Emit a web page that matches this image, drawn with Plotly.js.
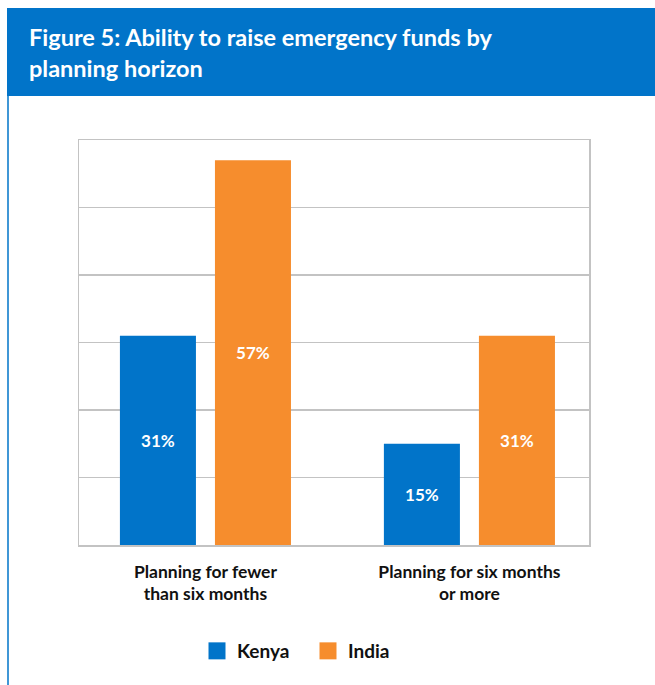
<!DOCTYPE html>
<html>
<head>
<meta charset="utf-8">
<script src="https://cdn.plot.ly/plotly-3.0.1.min.js"></script>
<style>html,body{margin:0;padding:0;background:#fff;}#chart{width:655px;height:685px;}</style>
</head>
<body>
<div id="chart"></div>
<script>
const categories = ["Planning for fewer<br>than six months", "Planning for six months<br>or more"];
const kenyaValues = [31, 15];
const indiaValues = [57, 31];
const seriesNames = ["Kenya", "India"];
const titleText = "Figure 5: Ability to raise emergency funds by<br>planning horizon";

const BLUE = "#0174C9";
const ORANGE = "#F68D2D";
const FONT = "Lato, 'Open Sans', sans-serif";

// plot area geometry (px)
const W = 655, H = 685, L = 79, R = 589, T = 140, B = 545;
const px2x = p => (p - L) / (R - L);
const py2y = p => (B - p) / (B - T);

const traces = [
  {type: "bar", name: seriesNames[0], x: categories, y: kenyaValues,
   marker: {color: BLUE}, texttemplate: "%{y}%", textposition: "inside",
   insidetextanchor: "middle", textfont: {color: "#fff", size: 17, family: FONT, weight: 700},
   hoverinfo: "skip"},
  {type: "bar", name: seriesNames[1], x: categories, y: indiaValues,
   marker: {color: ORANGE}, texttemplate: "%{y}%", textposition: "inside",
   insidetextanchor: "middle", textfont: {color: "#fff", size: 17, family: FONT, weight: 700},
   hoverinfo: "skip"}
];

const layout = {
  width: W, height: H,
  margin: {l: L, r: W - R, t: T, b: H - B, pad: 0},
  paper_bgcolor: "#fff", plot_bgcolor: "#fff",
  font: {family: FONT, color: "#111"},
  barmode: "group", bargap: 0.28, bargroupgap: 0.2,
  xaxis: {type: "category", range: [-0.479, 1.453], showline: true, mirror: true,
          linecolor: "#c3c3c3", linewidth: 1.5, ticks: "", ticklabelstandoff: 10,
          tickfont: {size: 17.5, color: "#111", family: FONT, weight: 700},
          fixedrange: true},
  yaxis: {range: [0, 60], dtick: 10, showticklabels: false, showgrid: true,
          gridcolor: "#c3c3c3", gridwidth: 1.2, showline: true, mirror: true,
          linecolor: "#c3c3c3", linewidth: 1.5, zeroline: false, ticks: "", fixedrange: true},
  legend: {orientation: "h", x: px2x(197), xanchor: "left", xref: "paper",
           y: py2y(651), yanchor: "middle", entrywidth: 66,
           font: {size: 19, color: "#111", family: FONT, weight: 700},
           traceorder: "normal"},
  showlegend: true,
  annotations: [
    {text: titleText, xref: "paper", yref: "paper", x: px2x(27), y: py2y(52),
     xanchor: "left", yanchor: "middle", align: "left", showarrow: false,
     font: {family: FONT, size: 23.5, color: "#fff", weight: 700}}
  ],
  shapes: [
    {type: "rect", xref: "paper", yref: "paper", x0: px2x(7), x1: px2x(656),
     y0: py2y(96), y1: py2y(8), fillcolor: BLUE, line: {width: 0}, layer: "below"},
    {type: "line", xref: "paper", yref: "paper", x0: px2x(8), x1: px2x(8),
     y0: py2y(96), y1: py2y(686), line: {color: BLUE, width: 1.5}}
  ]
};

Plotly.newPlot("chart", traces, layout, {displayModeBar: false, staticPlot: true}).then(gd => {
  gd.querySelectorAll(".legend .legendpoints path").forEach(p => {
    p.setAttribute("d", "M8.5,8.5H-8.5V-8.5H8.5Z");
  });
});
</script>
</body>
</html>
